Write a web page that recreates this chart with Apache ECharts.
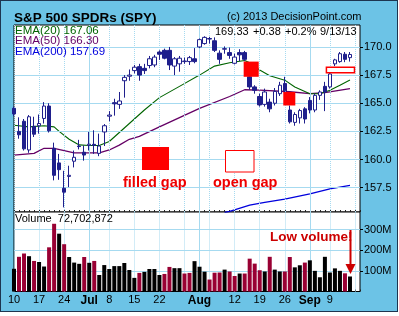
<!DOCTYPE html>
<html><head><meta charset="utf-8">
<script src="https://cdn.jsdelivr.net/npm/echarts@6/dist/echarts.min.js"></script>
<style>
html,body{margin:0;padding:0;background:#fff;}
#frame{position:absolute;left:0;top:0;width:398px;height:312px;box-sizing:border-box;border:1px solid #1d3550;background:#6cc3e6;}
#chart{position:absolute;left:0;top:0;width:399px;height:316px;}
</style></head><body>
<div id="frame"></div><div id="chart"></div>
<script>
// ---- data ----
const dates = ['6/10','6/11','6/12','6/13','6/14','6/17','6/18','6/19','6/20','6/21','6/24','6/25','6/26','6/27','6/28',
'7/1','7/2','7/3','7/5','7/8','7/9','7/10','7/11','7/12','7/15','7/16','7/17','7/18','7/19','7/22','7/23','7/24','7/25','7/26',
'7/29','7/30','7/31','8/1','8/2','8/5','8/6','8/7','8/8','8/9','8/12','8/13','8/14','8/15','8/16','8/19','8/20','8/21','8/22','8/23',
'8/26','8/27','8/28','8/29','8/30','9/3','9/4','9/5','9/6','9/9','9/10','9/11','9/12','9/13','9/16','9/17'];
const opens  = [164.55,162.50,163.40,160.85,162.95,163.00,163.65,164.75,161.00,159.70,157.45,158.50,159.85,161.20,160.65,
161.25,161.35,160.55,162.45,163.85,165.05,164.90,167.00,167.40,167.90,168.25,168.10,168.35,168.40,169.55,169.70,169.70,168.30,168.50,
168.70,168.70,168.95,170.00,170.30,170.75,170.55,169.45,169.80,169.50,168.55,169.50,169.50,167.35,166.45,165.60,164.90,165.10,165.00,165.85,
166.75,164.40,163.30,163.70,164.50,165.25,164.40,165.70,166.50,166.45,168.50,168.70,169.35,169.05];
const closes = [164.05,162.20,160.95,163.80,162.25,163.20,164.75,162.55,158.60,159.10,157.10,158.60,160.20,161.15,160.40,
161.36,161.25,161.20,163.00,163.95,164.95,165.20,167.30,167.50,168.20,167.50,167.90,168.95,169.10,169.35,169.00,168.40,168.95,169.00,
168.75,169.05,168.70,170.65,170.85,170.70,169.70,168.90,169.85,169.25,169.10,169.30,168.90,166.45,166.15,164.85,166.00,164.50,166.05,166.60,
166.10,163.35,164.00,164.35,163.60,164.40,165.70,166.00,166.00,167.60,168.85,169.40,168.90,169.33];
const lows   = [163.85,161.85,160.80,160.60,162.00,162.30,163.20,162.40,158.15,158.20,155.75,157.55,159.30,160.90,159.90,
160.80,160.50,160.30,161.20,163.40,163.90,164.50,165.50,167.00,167.65,167.00,167.60,168.10,168.20,168.85,168.90,167.95,167.50,167.80,
168.50,168.40,168.55,169.90,170.20,170.30,169.55,168.50,169.40,168.95,168.45,168.75,168.75,166.20,165.85,164.70,164.70,164.20,164.80,165.65,
165.95,163.20,163.00,163.20,163.20,164.10,164.20,165.30,164.30,166.30,168.30,168.60,168.65,168.70];
const highs  = [164.70,163.75,163.60,163.95,163.80,164.00,165.10,165.00,161.50,160.50,159.00,159.45,160.80,161.75,161.25,
162.45,162.60,162.30,163.15,164.30,165.40,166.00,167.50,168.00,168.40,168.50,168.50,169.20,169.30,169.70,169.85,170.00,169.10,169.20,
169.05,169.20,169.90,170.75,170.95,170.90,170.85,169.70,170.05,169.95,169.40,169.80,169.65,167.60,166.60,165.85,166.30,165.40,166.35,166.90,
167.35,164.80,164.20,164.50,164.65,165.55,165.85,166.15,166.90,167.75,168.95,169.55,169.55,169.55];
// volume in millions, and 1 = up (black) / 0 = down (red)
const volumes = [110,168,184,171,148,143,121,214,328,280,229,167,140,134,167,139,148,80,128,109,123,123,138,104,66,90,95,109,109,80,
85,119,113,113,87,90,147,120,96,58,91,92,106,97,75,87,87,159,135,103,97,168,106,97,97,167,117,127,140,151,100,69,168,92,112,100,88,72.7];
const volUp = [1,0,0,1,0,1,1,0,0,1,0,1,1,1,0,1,0,1,1,1,1,1,1,1,1,0,1,1,1,1,0,0,1,1,0,0,1,1,1,0,0,0,1,0,0,1,0,0,0,0,1,0,1,1,
0,0,1,1,0,1,1,1,1,1,1,1,0,1];
// moving averages read at sample points: [day index, value]
const ema20 = [[0,163.05],[3,162.9],[6,163.0],[8,162.9],[9,162.5],[11,161.8],[13,161.3],[15,161.25],[17,161.25],[19,161.6],[21,162.4],
[23,163.2],[26,164.4],[29,165.5],[33,166.5],[37,167.5],[40,168.3],[43,168.6],[46,168.8],[47,168.6],[49,167.95],[51,167.45],[54,167.05],
[56,166.45],[59,165.85],[61,165.85],[63,166.15],[65,166.6],[67,167.06]];
const ema50 = [[0,160.4],[4,160.55],[6,161.0],[8,161.0],[10,160.8],[12,160.6],[17,160.6],[19,160.85],[21,161.28],[23,161.8],[25,162.05],
[29,162.9],[37,164.55],[43,165.6],[46,166.2],[49,166.17],[55,166.02],[59,165.85],[62,165.95],[67,166.3]];
const ema200 = [[42,155.3],[43,155.4],[47,155.95],[50,156.2],[54,156.48],[59,156.95],[63,157.4],[67,157.7]];
// gaps: start/end (day index), low, high, filled
const gapX0 = [45.8, 53.7, 62.3];
const gapX1 = [48.8, 56.1, 67.9];
const gapLow = [167.35, 164.8, 167.7];
const gapHigh = [168.7, 166.0, 168.2];
const gapFilled = [1, 1, 0];
// tick labels
const priceTicks = [157.5, 160, 162.5, 165, 167.5, 170];
const volTicks = [100, 200, 300];
const xLabelIdx = [0,5,10,15,19,24,29,37,44,49,54,59,63];
const xLabelText = ['10','17','24','Jul','8','15','22','Aug','12','19','26','Sep','9'];
const mondayIdx = [0,5,10,19,24,29,34,39,44,49,54,63,68];
const monthIdx = [15,37,59];

// ---- chart ----
const NAVY = '#1f1f8c', GRID = '#a6daf0';
const F = '"Liberation Sans", Arial, sans-serif';
const NARROW = '"Liberation Sans Narrow", "Arial Narrow", "Liberation Sans", sans-serif';
const chart = echarts.init(document.getElementById('chart'), null, {renderer: 'canvas'});

function vLines(hvals) {
  const d = [];
  mondayIdx.forEach(i => d.push({xAxis: i, lineStyle: {type: 'dotted', color: GRID, width: 1}}));
  monthIdx.forEach(i => d.push({xAxis: i, lineStyle: {type: 'solid', color: GRID, width: 1}}));
  hvals.forEach(v => d.push({yAxis: v, lineStyle: {type: 'solid', color: GRID, width: 1}}));
  return {silent: true, symbol: 'none', label: {show: false}, animation: false, data: d};
}
const gapData = gapX0.map((x0, k) => [Math.round(x0), gapLow[k], gapHigh[k], x0, gapX1[k], gapFilled[k]]);

const xBase = {
  type: 'category', data: dates, boundaryGap: false,
  axisLine: {show: false},
  axisTick: {show: true, inside: true, interval: 0, length: 2, lineStyle: {color: '#222'}},
  splitLine: {show: false}
};

chart.setOption({
  animation: false,
  backgroundColor: 'transparent',
  grid: [
    {left: 14, right: 39, top: 25, height: 187, show: true, borderColor: '#000', borderWidth: 1, backgroundColor: '#fff'},
    {left: 14, right: 39, top: 212, height: 79.5, show: true, borderColor: '#000', borderWidth: 1, backgroundColor: '#fff'}
  ],
  xAxis: [
    Object.assign({}, xBase, {gridIndex: 0, axisLabel: {show: false}}),
    Object.assign({}, xBase, {gridIndex: 1, axisLabel: {
      show: true, margin: 3, color: '#000', fontSize: 11, fontFamily: F,
      interval: (i) => xLabelIdx.indexOf(i) >= 0,
      formatter: (v, i) => {
        const k = xLabelIdx.indexOf(i);
        if (k < 0) return '';
        const t = xLabelText[k];
        return /[A-Za-z]/.test(t) ? '{b|' + t + '}' : t;
      },
      rich: {b: {fontWeight: 'bold', fontSize: 12, color: '#000', fontFamily: F}}
    }})
  ],
  yAxis: [
    {type: 'value', gridIndex: 0, position: 'right', min: 155.34, max: 171.95, scale: true,
      axisLine: {show: false}, splitLine: {show: false},
      axisTick: {show: true, length: 3, customValues: priceTicks, lineStyle: {color: '#000'}},
      axisLabel: {show: true, customValues: priceTicks, margin: 4, color: '#000', fontSize: 11, fontFamily: F,
        formatter: v => v.toFixed(1)}},
    {type: 'value', gridIndex: 1, position: 'right', min: 0, max: 385,
      axisLine: {show: false}, splitLine: {show: false},
      axisTick: {show: true, length: 3, customValues: volTicks, lineStyle: {color: '#000'}},
      axisLabel: {show: true, customValues: volTicks, margin: 4, color: '#000', fontSize: 11, fontFamily: F,
        formatter: v => v + 'M'}}
  ],
  series: [
    {type: 'line', xAxisIndex: 0, yAxisIndex: 0, data: [], z: 1, markLine: vLines(priceTicks)},
    {type: 'line', xAxisIndex: 1, yAxisIndex: 1, data: [], z: 1, markLine: vLines(volTicks)},
    {type: 'line', xAxisIndex: 0, yAxisIndex: 0, data: ema200, showSymbol: false, z: 3,
      lineStyle: {color: '#0000dd', width: 1.3}},
    {type: 'line', xAxisIndex: 0, yAxisIndex: 0, data: ema50, showSymbol: false, z: 3,
      lineStyle: {color: '#650065', width: 1.3}},
    {type: 'line', xAxisIndex: 0, yAxisIndex: 0, data: ema20, showSymbol: false, z: 3,
      lineStyle: {color: '#006400', width: 1.1}},
    {type: 'candlestick', xAxisIndex: 0, yAxisIndex: 0, z: 5, barWidth: 4,
      data: opens.map((o, i) => [o, closes[i], lows[i], highs[i]]),
      itemStyle: {color: '#ffffff', color0: NAVY, borderColor: NAVY, borderColor0: NAVY, borderWidth: 1}},
    {type: 'custom', xAxisIndex: 0, yAxisIndex: 0, z: 8, data: gapData,
      encode: {x: 0, y: 1},
      renderItem: (params, api) => {
        const a = api.value(0);
        const b0 = api.coord([a, api.value(2)]);
        const b1 = api.coord([a, api.value(1)]);
        const unit = api.coord([a + 1, api.value(1)])[0] - b0[0];
        const x0 = b0[0] + (api.value(3) - a) * unit;
        const x1 = b0[0] + (api.value(4) - a) * unit;
        const filled = api.value(5) === 1;
        return {type: 'rect', shape: {x: x0, y: b0[1], width: x1 - x0, height: b1[1] - b0[1]},
          style: filled ? {fill: '#ff0000'} : {fill: '#ffffff', stroke: '#ff0000', lineWidth: 1.5}};
      }},
    {type: 'bar', xAxisIndex: 1, yAxisIndex: 1, z: 5, barWidth: 4,
      data: volumes.map((v, i) => ({value: v, itemStyle: {color: volUp[i] ? '#000000' : '#990033'}}))}
  ],
  graphic: [
    {type: 'text', x: 14, y: 18, style: {text: 'S&P 500 SPDRs (SPY)', fill: '#000', font: 'bold 13.5px ' + F, verticalAlign: 'middle'}},
    {type: 'text', x: 227, y: 17, style: {text: '(c) 2013 DecisionPoint.com', fill: '#000', font: '11px ' + F, verticalAlign: 'middle'}},
    {type: 'text', x: 215, y: 31.5, z: 20, style: {text: '169.33', fill: '#000', font: '11px ' + F, verticalAlign: 'middle'}},
    {type: 'text', x: 253, y: 31.5, z: 20, style: {text: '+0.38', fill: '#000', font: '11px ' + F, verticalAlign: 'middle'}},
    {type: 'text', x: 285, y: 31.5, z: 20, style: {text: '+0.2%', fill: '#000', font: '11px ' + F, verticalAlign: 'middle'}},
    {type: 'text', x: 320, y: 31.5, z: 20, style: {text: '9/13/13', fill: '#000', font: '11px ' + F, verticalAlign: 'middle'}},
    {type: 'text', x: 15, y: 30.5, z: 20, style: {text: 'EMA(20) 167.06', fill: '#006400', font: '11.5px ' + F, verticalAlign: 'middle'}},
    {type: 'text', x: 15, y: 41.3, z: 20, style: {text: 'EMA(50) 166.30', fill: '#650065', font: '11.5px ' + F, verticalAlign: 'middle'}},
    {type: 'text', x: 15, y: 52, z: 20, style: {text: 'EMA(200) 157.69', fill: '#0000dd', font: '11.5px ' + F, verticalAlign: 'middle'}},
    {type: 'text', x: 15, y: 218.5, z: 20, style: {text: 'Volume  72,702,872', fill: '#000', font: '11px ' + F, verticalAlign: 'middle'}},
    {type: 'rect', z: 20, shape: {x: 142, y: 147, width: 27, height: 23}, style: {fill: '#ff0000'}},
    {type: 'rect', z: 20, shape: {x: 225.5, y: 150.5, width: 28.5, height: 21.5}, style: {fill: '#fff', stroke: '#ff0000', lineWidth: 1}},
    {type: 'text', x: 123, y: 183, z: 20, style: {text: 'filled gap', fill: '#ee0000', font: 'bold 14.5px ' + NARROW, verticalAlign: 'middle'}},
    {type: 'text', x: 213, y: 183, z: 20, style: {text: 'open gap', fill: '#ee0000', font: 'bold 14.5px ' + NARROW, verticalAlign: 'middle'}},
    {type: 'text', x: 270, y: 237, z: 20, style: {text: 'Low volume!', fill: '#cc0000', font: 'bold 13.5px ' + NARROW, verticalAlign: 'middle'}},
    {type: 'line', z: 20, shape: {x1: 350.5, y1: 230, x2: 350.5, y2: 266}, style: {stroke: '#cc0000', lineWidth: 2}},
    {type: 'polygon', z: 20, shape: {points: [[345.5, 264], [355.5, 264], [350.5, 274]]}, style: {fill: '#cc0000'}}
  ]
});
</script></body></html>
